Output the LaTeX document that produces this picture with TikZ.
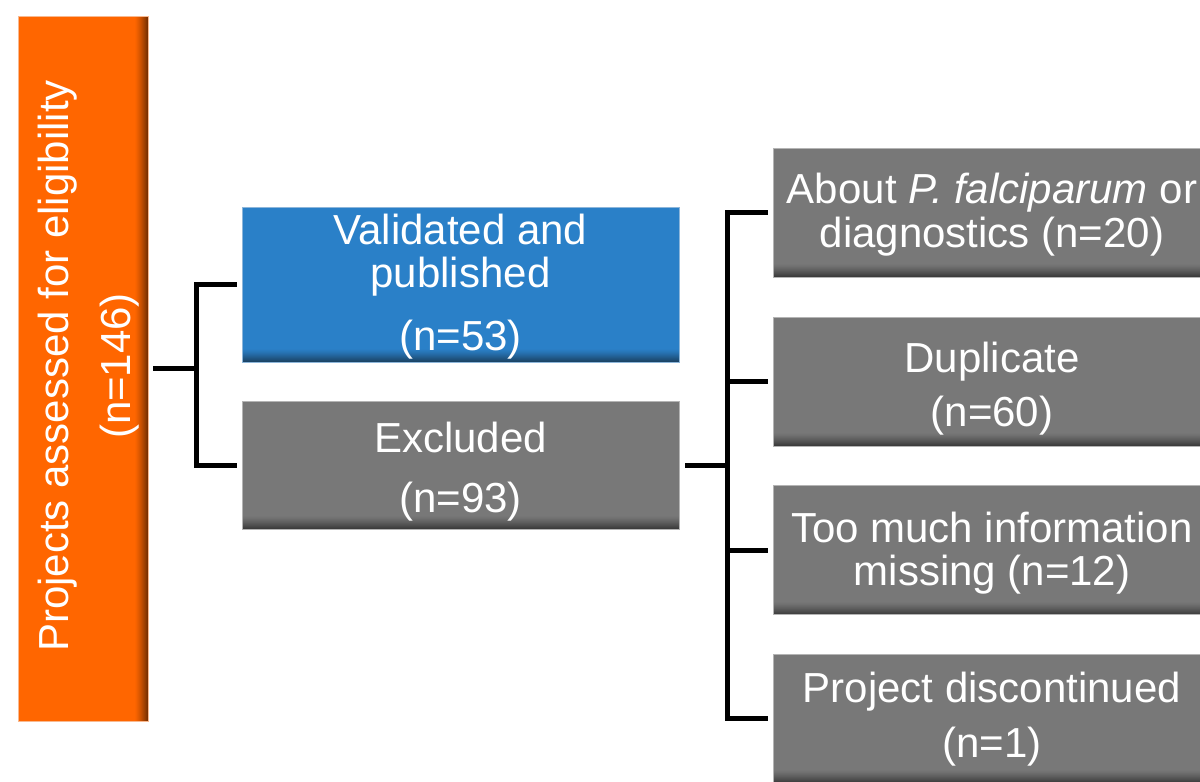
\documentclass[tikz,border=0pt]{standalone}
\usepackage{fontspec}
\setmainfont{Liberation Sans}

\definecolor{orangebox}{HTML}{FF6600}
\definecolor{orangedark}{HTML}{7A3000}
\definecolor{orangeedge}{HTML}{F8B990}
\definecolor{bluebox}{HTML}{2A80C8}
\definecolor{bluedark}{HTML}{1B4466}
\definecolor{blueedge}{HTML}{8DB6DA}
\definecolor{greybox}{HTML}{787878}
\definecolor{greydark}{HTML}{3C3C3C}
\definecolor{greyedge}{HTML}{B4B4B4}

\begin{document}
\begin{tikzpicture}[x=1pt,y=-1pt,
  box/.style={rectangle, inner sep=0pt, line width=0.8pt},
  % box darkening towards its lower edge, built from stacked bands
  lowshade/.style n args={3}{box, fill=#1, draw=#3,
    path picture={
      \foreach \k [evaluate=\k as \p using int(100*(\k/13)^1.3),
                   evaluate=\k as \h using 14-\k] in {0,...,13}
        \fill[#2!\p!#1] ([yshift=\h*1pt]path picture bounding box.south west)
          rectangle (path picture bounding box.south east);}},
  % box darkening towards its right edge, built from stacked bands
  sideshade/.style n args={3}{box, fill=#1, draw=#3,
    path picture={
      \foreach \k [evaluate=\k as \p using int(100*(\k/13)^1.3),
                   evaluate=\k as \w using 14-\k] in {0,...,13}
        \fill[#2!\p!#1] ([xshift=-\w*1pt]path picture bounding box.north east)
          rectangle (path picture bounding box.south east);}},
  orangebox/.style={sideshade={orangebox}{orangedark}{orangeedge}},
  bluebox/.style={lowshade={bluebox}{bluedark}{blueedge}},
  greybox/.style={lowshade={greybox}{greydark}{greyedge}},
  lbl/.style={text=white, font=\fontsize{42pt}{46pt}\selectfont,
    inner sep=0pt, anchor=base},
  conn/.style={line width=5pt, black, line join=miter}
]
\useasboundingbox (0,0) rectangle (1200,782);
\clip (0,0) rectangle (1200,782);

% boxes
\node[orangebox, minimum width=130pt, minimum height=705pt] (elig) at (83,368.5) {};
\node[bluebox, minimum width=437pt, minimum height=155pt] (valid) at (460.5,284.5) {};
\node[greybox, minimum width=437pt, minimum height=128pt] (excl) at (460.5,465) {};
\node[greybox, minimum width=438pt, minimum height=129pt] (r1) at (992,212.5) {};
\node[greybox, minimum width=438pt, minimum height=129pt] (r2) at (992,381.5) {};
\node[greybox, minimum width=438pt, minimum height=129pt] (r3) at (992,550) {};
\node[greybox, minimum width=438pt, minimum height=129pt] (r4) at (992,718.5) {};

% labels
\node[lbl, rotate=90] (elig1) at (68,366) {Projects assessed for eligibility};
\node[lbl, rotate=90] (elig2) at (130,366) {(n=146)};
\node[lbl] (valid1) at (460.5,244) {Validated and};
\node[lbl] (valid2) at (460.5,287) {published};
\node[lbl] (valid3) at (460.5,350) {(n=53)};
\node[lbl] (excl1) at (460.5,452) {Excluded};
\node[lbl] (excl2) at (460.5,512) {(n=93)};
\node[lbl] (r1a) at (992,203) {About \textit{P. falciparum} or};
\node[lbl] (r1b) at (992,247) {diagnostics (n=20)};
\node[lbl] (r2a) at (992,372) {Duplicate};
\node[lbl] (r2b) at (992,426) {(n=60)};
\node[lbl] (r3a) at (992,542) {Too much information};
\node[lbl] (r3b) at (992,585) {missing (n=12)};
\node[lbl] (r4a) at (992,702) {Project discontinued};
\node[lbl] (r4b) at (992,757) {(n=1)};

% bracket connectors
\coordinate (jl) at (196,368.5);
\draw[conn] ([xshift=5pt]elig.east) -- (jl);
\draw[conn] ([xshift=-5pt]valid.west) -| (jl) |- ([xshift=-5pt]excl.west);

\coordinate (jr) at (727,465);
\draw[conn] ([xshift=6pt]excl.east) -- (jr);
\draw[conn] ([xshift=-5pt]r1.west) -| (jr) |- ([xshift=-5pt]r4.west);
\draw[conn] (jr |- r2.west) -- ([xshift=-5pt]r2.west);
\draw[conn] (jr |- r3.west) -- ([xshift=-5pt]r3.west);
\end{tikzpicture}
\end{document}
